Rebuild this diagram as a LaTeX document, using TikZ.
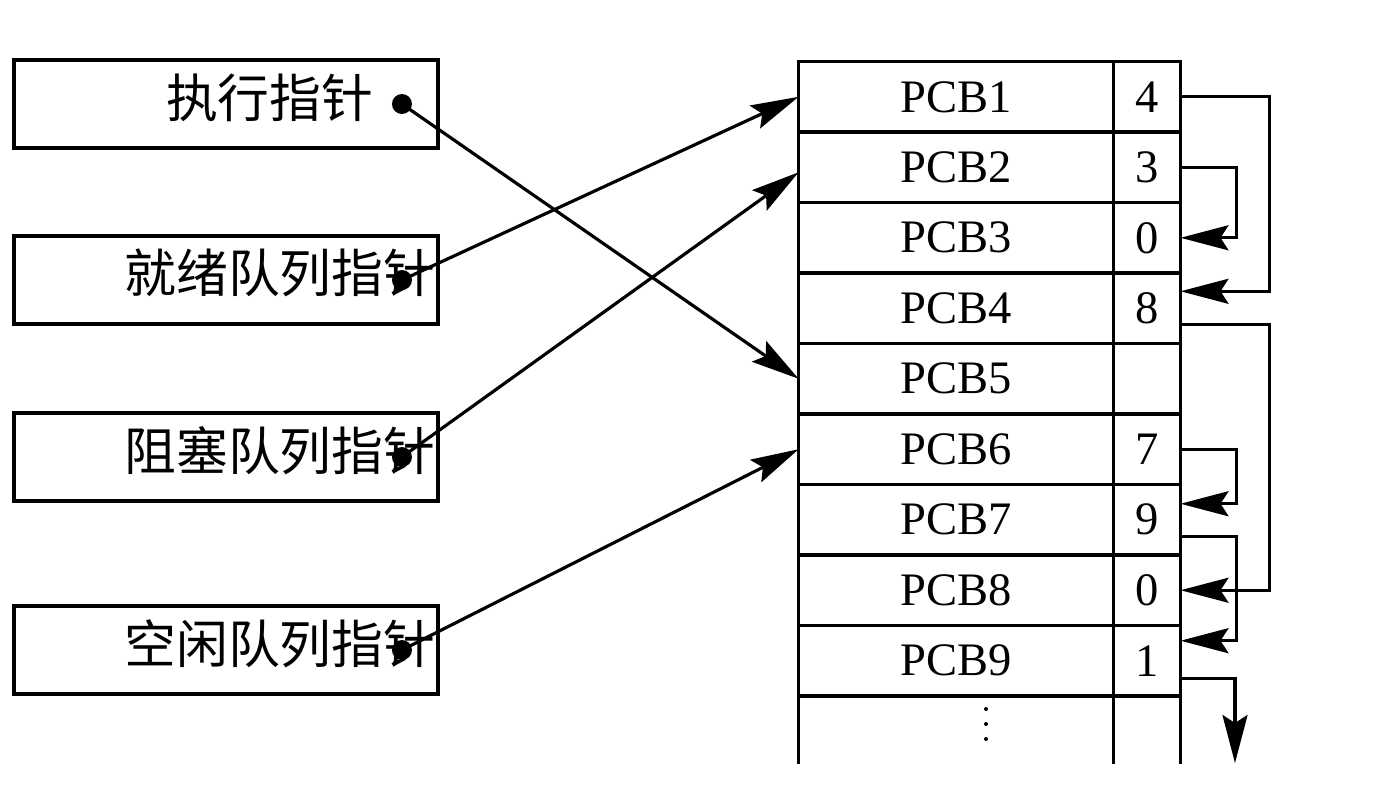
\documentclass[tikz,border=0pt]{standalone}
\usepackage{fontspec}
\setmainfont{Liberation Serif}
\newfontfamily\cjk{Noto Sans CJK SC}
\usetikzlibrary{matrix}
\usetikzlibrary{arrows.meta}

\tikzset{
  ptrbox/.style={draw, minimum width=8.48cm, minimum height=1.76cm, inner sep=0pt, outer sep=0pt},
  ptrtext/.style={anchor=east, inner sep=0pt, font=\cjk\fontsize{29.5}{32}\selectfont},
  link/.style={-{Stealth[length=0.96cm,width=0.5cm,inset=0.16cm]}}
}

\begin{document}
\begin{tikzpicture}[x=0.02cm,y=-0.02cm,line width=1.8pt]
  \useasboundingbox (0,0) rectangle (1387,788);
  \matrix (m) [matrix of nodes, nodes in empty cells, anchor=north west,
    inner sep=0pt, outer sep=0pt, row sep=-1.8pt, column sep=-1.8pt,
    nodes={draw, anchor=center, inner sep=0pt, outer sep=0pt, minimum height=1.41cm,
      font=\fontsize{26.5}{30}\selectfont},
    column 1/.style={nodes={minimum width=6.3cm}},
    column 2/.style={nodes={minimum width=1.34cm}}] at (797,60)
  {
    PCB1 & 4 \\
    PCB2 & 3 \\
    PCB3 & 0 \\
    PCB4 & 8 \\
    PCB5 &   \\
    PCB6 & 7 \\
    PCB7 & 9 \\
    PCB8 & 0 \\
    PCB9 & 1 \\};
  \draw (m-9-1.south west) -- ++(0,68);
  \draw (m-9-2.south west) -- ++(0,68);
  \draw (m-9-2.south east) -- ++(0,68);
  \foreach \k in {0,1,2}
    \fill (986,709+15*\k) circle (0.04cm);

  % pointer boxes
  \node[ptrbox] (exec) at (226,104) {};
  \node[ptrbox] (ready) at (226,280) {};
  \node[ptrbox] (block) at (226,457) {};
  \node[ptrbox] (free) at (226,650) {};
  \node[ptrtext] (exec-txt) at ([xshift=-1.26cm,yshift=0.12cm]exec.east) {执行指针};
  \node[ptrtext] (ready-txt) at ([xshift=-0.02cm,yshift=0.14cm]ready.east) {就绪队列指针};
  \node[ptrtext] (block-txt) at ([xshift=-0.02cm,yshift=0.12cm]block.east) {阻塞队列指针};
  \node[ptrtext] (free-txt) at ([xshift=-0.02cm,yshift=0.12cm]free.east) {空闲队列指针};
  \coordinate (exec-dot) at ([xshift=-0.72cm]exec.east);
  \coordinate (ready-dot) at ([xshift=-0.72cm]ready.east);
  \coordinate (block-dot) at ([xshift=-0.72cm]block.east);
  \coordinate (free-dot) at ([xshift=-0.72cm]free.east);
  \foreach \p in {exec,ready,block,free}
    \fill (\p-dot) circle (0.2cm);

  \path[link]
    (exec-dot) edge (m-5-1.west)
    (ready-dot) edge (m-1-1.west)
    (block-dot) edge ([yshift=-0.1cm]m-2-1.west)
    (free-dot) edge (m-6-1.west);

  % next links
  \coordinate (next) at (1235,763);
  \draw[link] (m-1-2.east) -- ++(89,0) |- ([yshift=0.34cm]m-4-2.east);
  \draw[link] (m-2-2.east) -- ++(56,0) |- (m-3-2.east);
  \draw[link] ([yshift=-0.32cm]m-4-2.east) -- ++(89,0) |- (m-8-2.east);
  \draw[link] (m-6-2.east) -- ++(56,0) |- ([yshift=0.32cm]m-7-2.east);
  \draw[link] ([yshift=-0.34cm]m-7-2.east) -- ++(56,0) |- ([yshift=0.4cm]m-9-2.east);
  \draw[link] ([yshift=-0.36cm]m-9-2.east) -| (next);
\end{tikzpicture}
\end{document}
